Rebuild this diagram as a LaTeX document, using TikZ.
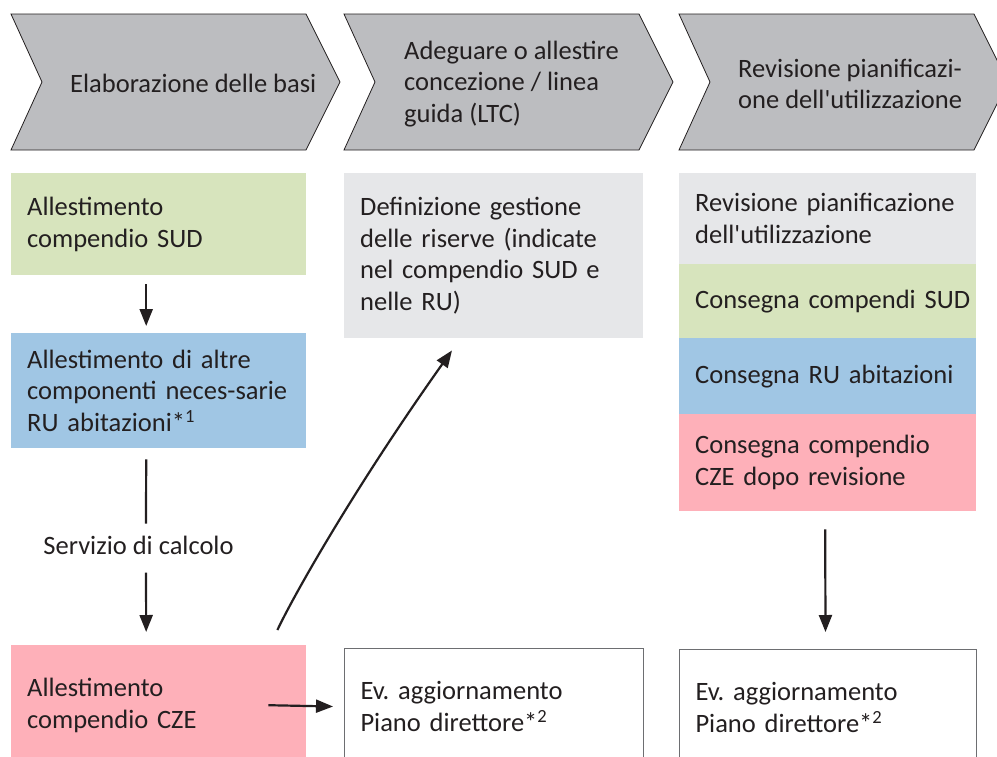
\documentclass[tikz,border=0pt]{standalone}
\usepackage{fontspec}
\setmainfont{Carlito}
\usetikzlibrary{arrows.meta,calc}

\definecolor{chevgray}{HTML}{BCBDC0}
\definecolor{boxgreen}{HTML}{D7E4BD}
\definecolor{boxblue}{HTML}{A0C6E4}
\definecolor{boxpink}{HTML}{FEB0B9}
\definecolor{boxgray}{HTML}{E6E7E9}
\definecolor{ink}{HTML}{231F20}
\definecolor{frame}{HTML}{6D6E71}

\begin{document}
\frenchspacing
\begin{tikzpicture}[x=1pt,y=-1pt,
  font=\fontsize{26.5}{31.7}\selectfont, text=ink,
  chevron/.style={draw=ink, line width=0.8pt, fill=chevgray, line join=miter},
  chevtext/.style={anchor=west, align=left, inner sep=0pt},
  box/.style={rectangle, anchor=north west, inner xsep=16pt, inner ysep=0pt,
    align=left, minimum width=#1pt, text width=#1pt-32pt},
  box/.default=295,
  openbox/.style={draw=frame, line width=1pt, fill=white},
  arr/.style={draw=ink, line width=2.2pt, -{Triangle[length=17pt,width=13pt]}},
  plain/.style={draw=ink, line width=2.2pt}
]
\useasboundingbox (0,0) rectangle (997,756);
\clip (0,0) rectangle (997,756);

% process stages
\draw[chevron] (11,14) -- (306,14) -- (340,82) -- (306,150) -- (11,150) -- (42,82) -- cycle;
\draw[chevron] (344,14) -- (639,14) -- (673,82) -- (639,150) -- (344,150) -- (375,82) -- cycle;
\draw[chevron] (679,14) -- (974,14) -- (1008,82) -- (974,150) -- (679,150) -- (710,82) -- cycle;
\node[chevtext] (s1) at (70,83) {Elaborazione delle basi};
\node[chevtext] (s2) at (404,84) {Adeguare o allestire\\concezione / linea\\guida (LTC)};
\node[chevtext] (s3) at (738,84) {Revisione pianificazi-\\one dell\textquotesingle utilizzazione};

% column 1
\node[box=295, fill=boxgreen, minimum height=102pt] (g1) at (11,173) {Allestimento\\compendio SUD};
\node[box=295, fill=boxblue, minimum height=115pt] (b1) at (11,333) {Allestimento di altre\\componenti neces-sarie\\RU abitazioni*\textsuperscript{1}};
\node[box=295, fill=boxpink, minimum height=120pt] (p1) at (11,645) {Allestimento\\compendio CZE};
\node[inner sep=0pt] (calc) at (138.5,545) {Servizio di calcolo};

% column 2
\node[box=299, fill=boxgray, minimum height=165pt] (g2) at (344,173) {Definizione gestione\\delle riserve (indicate\\nel compendio SUD e\\nelle RU)};
\node[box=299, openbox, minimum height=116pt] (w2) at (344,648) {Ev. aggiornamento\\Piano direttore*\textsuperscript{2}};

% column 3
\node[box=297, fill=boxgray, minimum height=91pt] (r3) at (679,173) {Revisione pianificazione\\dell\textquotesingle utilizzazione};
\node[box=297, fill=boxgreen, minimum height=74pt] (c3) at (679,264) {\mbox{Consegna compendi SUD}};
\node[box=297, fill=boxblue, minimum height=76pt] (a3) at (679,338) {Consegna RU abitazioni};
\node[box=297, fill=boxpink, minimum height=97pt] (z3) at (679,414) {Consegna compendio\\CZE dopo revisione};
\node[box=297, openbox, minimum height=116pt] (w3) at (679,649) {Ev. aggiornamento\\Piano direttore*\textsuperscript{2}};

% connectors
\draw[arr] ([xshift=-12.5pt,yshift=-9pt]g1.south) -- ([xshift=-12.5pt,yshift=7pt]b1.north);
\draw[plain] ([xshift=-12.5pt,yshift=-11pt]b1.south) -- ([xshift=7.5pt,yshift=12pt]calc.north);
\draw[arr] ([xshift=7.5pt,yshift=-18pt]calc.south) -- ([xshift=-12.5pt,yshift=13pt]p1.north);
\draw[arr] ([xshift=-38pt]p1.east) -- ([xshift=-11pt]w2.west);
\draw[arr] ([xshift=-29pt,yshift=15pt]p1.north east)
  .. controls ($(p1.north east)+(-14,-47)$) and ($(g2.south west)+(8,153)$) ..
  ([xshift=108pt,yshift=-12pt]g2.south west);
\draw[arr] ([xshift=-2.5pt,yshift=-18pt]z3.south) -- ([xshift=-2.5pt,yshift=17pt]w3.north);
\end{tikzpicture}
\end{document}
